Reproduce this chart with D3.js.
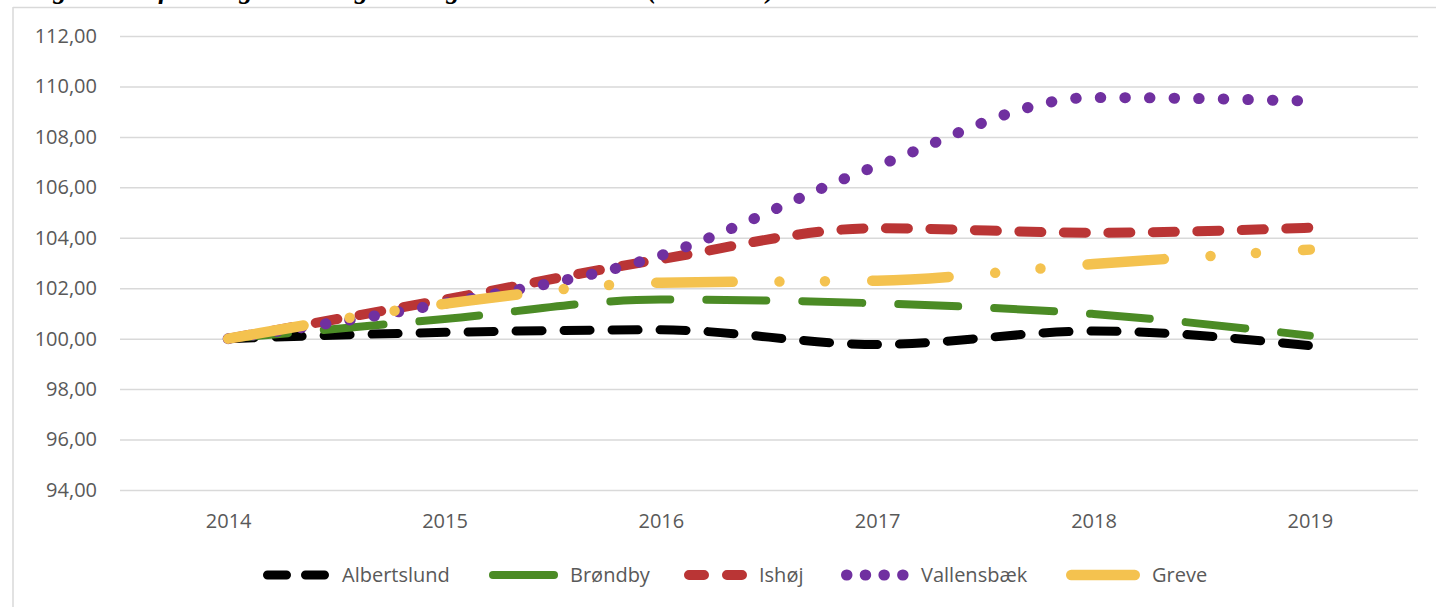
<!DOCTYPE html>
<html>
<head>
<meta charset="utf-8">
<script src="https://cdn.jsdelivr.net/npm/d3@7"></script>
<style>
  body { margin: 0; background: #fff; }
  text { font-family: "Open Sans", sans-serif; }
</style>
</head>
<body>
<div id="visContainer"></div>
<script>
'use strict';

// data (index, 2014 = 100)
var years = ['2014', '2015', '2016', '2017', '2018', '2019'];
var albertslund = [100, 100.25, 100.35, 99.77, 100.3, 99.72];
var brondby = [100, 100.78, 101.55, 101.4, 100.98, 100.12];
var ishoj = [100, 101.55, 103.15, 104.38, 104.2, 104.4];
var vallensbaek = [100, 101.4, 103.3, 106.85, 109.56, 109.42];
var greve = [100, 101.38, 102.22, 102.3, 102.96, 103.53];
var seriesNames = ['Albertslund', 'Brøndby', 'Ishøj', 'Vallensbæk', 'Greve'];
var yTicks = [94, 96, 98, 100, 102, 104, 106, 108, 110, 112];

var width = 1436;
var height = 607;
var plot = { left: 120, right: 1418, top: 36, bottom: 490 };

var svg = d3.select('#visContainer')
  .append('svg')
  .attr('width', width)
  .attr('height', height);

// styles per series (order = drawing order)
var styles = [
  { color: '#000000', w: 9, dash: '26,22', legDash: '19,19', legX: 263, legLen: 67 },
  { color: '#4b8b25', w: 8, dash: '60,36', legDash: null, legX: 489, legLen: 69 },
  { color: '#ba3535', w: 10, dash: '22,22.5', legDash: '15,23', legX: 684, legLen: 63 },
  { color: '#7030a0', w: 11, dash: '0.5,24.1', legDash: '0.5,18.2', legX: 841, legLen: 68 },
  { color: '#f4c24f', w: 10.5, dash: '76.5,46.75,0,45.5,0,47.25', legDash: null, legX: 1066, legLen: 74 }
];
var allSeries = [albertslund, brondby, ishoj, vallensbaek, greve];

// frame + title (cut off at the top, as in the source picture)
svg.append('text')
  .attr('x', 28).attr('y', -2.5)
  .style('font-family', '"Liberation Serif", serif')
  .style('font-style', 'italic').style('font-weight', 'bold')
  .attr('font-size', 27).attr('fill', '#000')
  .text('Figur 3: Befolkningsudvikling i Vestegnens kommuner (2014=100)');
svg.append('line').attr('x1', 13).attr('x2', width).attr('y1', 7.5).attr('y2', 7.5)
  .attr('stroke', '#d9d9d9').attr('stroke-width', 1.5);
svg.append('line').attr('x1', 13).attr('x2', 13).attr('y1', 7).attr('y2', height)
  .attr('stroke', '#d9d9d9').attr('stroke-width', 1.5);

var x = d3.scalePoint().domain(years).range([plot.left, plot.right]).padding(0.5);
var y = d3.scaleLinear().domain([94, 112]).range([plot.bottom, plot.top]);

var da = d3.formatLocale({ decimal: ',', thousands: '.', grouping: [3], currency: ['', ' kr'] });
var yAxis = d3.axisLeft(y).tickValues(yTicks).tickFormat(da.format('.2f'))
  .tickSize(-(plot.right - plot.left)).tickPadding(23);

var gy = svg.append('g')
  .attr('transform', 'translate(' + plot.left + ',0)')
  .call(yAxis);
gy.select('.domain').remove();
gy.selectAll('line').attr('stroke', '#d9d9d9').attr('stroke-width', 1.5);
gy.selectAll('text').attr('fill', '#595959').attr('font-size', 20)
  .style('font-family', '"Open Sans", sans-serif');

var xAxis = d3.axisBottom(x).tickSize(0).tickPadding(24);
var gx = svg.append('g')
  .attr('transform', 'translate(0,' + plot.bottom + ')')
  .call(xAxis);
gx.select('.domain').remove();
gx.selectAll('text').attr('fill', '#595959').attr('font-size', 20)
  .style('font-family', '"Open Sans", sans-serif');

var line = d3.line()
  .x(function (d, i) { return x(years[i]); })
  .y(function (d) { return y(d); })
  .curve(d3.curveMonotoneX);

allSeries.forEach(function (vals, i) {
  var s = styles[i];
  svg.append('path')
    .attr('d', line(vals))
    .attr('fill', 'none')
    .attr('stroke', s.color)
    .attr('stroke-width', s.w)
    .attr('stroke-linecap', 'round')
    .attr('stroke-linejoin', 'round')
    .attr('stroke-dasharray', s.dash);
});

// legend
var legY = 575;
seriesNames.forEach(function (name, i) {
  var s = styles[i];
  var x0 = s.legX + s.w / 2;
  var x1 = s.legX + s.legLen - s.w / 2;
  svg.append('path')
    .attr('d', 'M' + x0 + ',' + legY + 'H' + x1)
    .attr('stroke', s.color)
    .attr('stroke-width', s.w)
    .attr('stroke-linecap', 'round')
    .attr('stroke-dasharray', s.legDash);
  svg.append('text')
    .attr('x', s.legX + s.legLen + 12)
    .attr('y', legY)
    .attr('dy', '0.36em')
    .attr('font-size', 20)
    .attr('fill', '#595959')
    .text(name);
});
</script>
</body>
</html>
